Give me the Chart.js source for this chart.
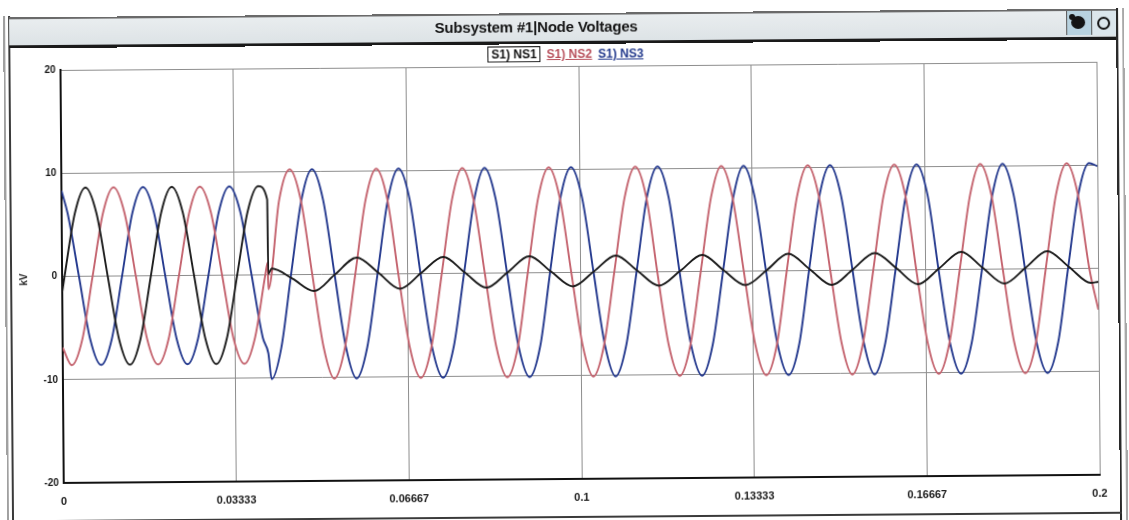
<!DOCTYPE html>
<html>
<head>
<meta charset="utf-8">
<script src="https://cdn.jsdelivr.net/npm/chart.js@4.4.1/dist/chart.umd.min.js"></script>
<style>
  html, body { margin: 0; padding: 0; background: #fff; }
  #fig { position: absolute; left: 0; top: 0; width: 1129px; height: 520px; transform: rotate(-0.45deg); transform-origin: 564px 260px; font-family: "Liberation Sans", Arial, sans-serif; }
  #grafico { position: absolute; left: 0; top: 0; }
  .linea { position: absolute; }
  #barra { position: absolute; left: 11px; top: 13px; width: 1107px; height: 26px; background: linear-gradient(#e9edef, #dde3e6); border-top: 2px solid #6a6a6a; border-bottom: 3px solid #1a1a1a; }
  #titulo { position: absolute; left: 0; width: 1076px; top: 18px; text-align: center; font-weight: bold; font-size: 15px; color: #151515; letter-spacing: -0.2px; }
  #leyenda { position: absolute; top: 46px; left: 489px; font-size: 12px; font-weight: bold; white-space: nowrap; }
  #leyenda span { display: inline-block; margin-right: 6px; }
  .ns1 { border: 1.5px solid #111; padding: 0 3px; color: #111; }
  .ns2 { color: #b8505c; text-decoration: underline; }
  .ns3 { color: #22398c; text-decoration: underline; }
  #kv { position: absolute; left: 17px; top: 270px; font-size: 10px; font-weight: bold; transform: rotate(-90deg); color: #222; }
</style>
</head>
<body>
<div id="fig">
  <canvas id="grafico" width="1129" height="520"></canvas>
  <div class="linea" style="left:5px; top:12px; width:2px; height:520px; background:#a0a0a0"></div>
  <div class="linea" style="left:10px; top:12px; width:2px; height:520px; background:#3a3a3a"></div>
  <div class="linea" style="left:1118px; top:12px; width:2px; height:520px; background:#2a2a2a"></div>
  <div class="linea" style="left:1124px; top:12px; width:2px; height:520px; background:#a8a8a8"></div>
  <div class="linea" style="left:10px; top:516px; width:1110px; height:2px; background:#3a3a3a"></div>
  <div id="barra"></div>
  <div id="titulo">Subsystem #1|Node Voltages</div>
  <!-- iconos de la barra -->
  <div class="linea" style="left:1068px; top:15px; width:24px; height:24px; background:#b8d2df; border-left:1px solid #555"></div>
  <div class="linea" style="left:1073px; top:20px; width:14px; height:13px; border-radius:50%; background:#141414"></div>
  <div class="linea" style="left:1071px; top:18px; width:6px; height:6px; border-radius:50%; background:#141414"></div>
  <div class="linea" style="left:1093px; top:15px; width:24px; height:24px; background:#dbe6ec; border-left:1px solid #555"></div>
  <div class="linea" style="left:1099px; top:21px; width:9px; height:9px; border-radius:50%; border:2px solid #111"></div>
  <div id="leyenda"><span class="ns1">S1) NS1</span><span class="ns2">S1) NS2</span><span class="ns3">S1) NS3</span></div>
  <div id="kv">kV</div>
</div>
<script>
  // Ejes
  const xTicks = [0, 0.03333, 0.06667, 0.1, 0.13333, 0.16667, 0.2];
  const xTickLabels = ['0', '0.03333', '0.06667', '0.1', '0.13333', '0.16667', '0.2'];
  const yTicks = [-20, -10, 0, 10, 20];

  // NS1 (negro): tiempo [s] y tension [kV]
  const timeNs1 = [
    0, 0.00047, 0.00255, 0.00464, 0.00672, 0.0088, 0.01089, 0.01297, 0.01505, 0.01714, 0.01922,
    0.0213, 0.02339, 0.02547, 0.02755, 0.02964, 0.03172, 0.0338, 0.03589, 0.03797, 0.0397, 0.0398,
    0.0405, 0.0445, 0.0486, 0.0527, 0.0569, 0.0611, 0.0652, 0.0694, 0.0736, 0.0777,
    0.0819, 0.0861, 0.0902, 0.0944, 0.0986, 0.1027, 0.1069, 0.1111, 0.1152, 0.1194,
    0.1236, 0.1277, 0.1319, 0.1361, 0.1402, 0.1444, 0.1486, 0.1527, 0.1569, 0.1611,
    0.1652, 0.1694, 0.1736, 0.1777, 0.1819, 0.1861, 0.1902, 0.1944, 0.1986, 0.2
  ];
  const kvNs1 = [
    -1.5, 0, 6.1, 8.6, 6.1, 0, -6.1, -8.6, -6.1, 0, 6.1,
    8.6, 6.1, 0, -6.1, -8.6, -6.1, 0, 6.1, 8.6, 7.3, 0.1,
    0.6, -0.4, -1.6, 0.0, 1.6, 0.1, -1.45, 0.1, 1.6, 0.1,
    -1.4, 0.1, 1.6, 0.1, -1.35, 0.1, 1.6, 0.1, -1.35, 0.1,
    1.6, 0.1, -1.35, 0.1, 1.65, 0.1, -1.4, 0.1, 1.65, 0.15,
    -1.4, 0.15, 1.7, 0.15, -1.4, 0.15, 1.7, 0.15, -1.4, -1.3
  ];

  // NS2 (rojo)
  const timeNs2 = [
    0, 0.00173, 0.00381, 0.00589, 0.00798, 0.01006, 0.01214, 0.01423, 0.01631, 0.01839, 0.02048, 0.02256,
    0.02464, 0.02673, 0.02881, 0.03089, 0.03298, 0.03506, 0.03714, 0.03923, 0.0397, 0.0398, 0.042,
    0.0441, 0.0462, 0.0483, 0.0504, 0.0524, 0.0545, 0.0566, 0.0587,
    0.0608, 0.0629, 0.0649, 0.067, 0.0691, 0.0712, 0.0733, 0.0754,
    0.0774, 0.0795, 0.0816, 0.0837, 0.0858, 0.0879, 0.0899, 0.092,
    0.0941, 0.0962, 0.0983, 0.1004, 0.1024, 0.1045, 0.1066, 0.1087,
    0.1108, 0.1129, 0.1149, 0.117, 0.1191, 0.1212, 0.1233, 0.1254,
    0.1274, 0.1295, 0.1316, 0.1337, 0.1358, 0.1379, 0.1399, 0.142,
    0.1441, 0.1462, 0.1483, 0.1504, 0.1524, 0.1545, 0.1566, 0.1587,
    0.1608, 0.1629, 0.1649, 0.167, 0.1691, 0.1712, 0.1733, 0.1754,
    0.1774, 0.1795, 0.1816, 0.1837, 0.1858, 0.1879, 0.1899, 0.192,
    0.1941, 0.1962, 0.1983, 0.2
  ];
  const kvNs2 = [
    -6.9, -8.6, -6.1, 0, 6.1, 8.6, 6.1, 0, -6.1, -8.6, -6.1, 0,
    6.1, 8.6, 6.1, 0, -6.1, -8.6, -6.1, 0, 1.2, -1.4, 7.2,
    10.2, 7.2, 0, -7.1, -10.1, -7.1, 0, 7.2,
    10.2, 7.2, 0, -7.1, -10.1, -7.1, 0, 7.2,
    10.2, 7.2, 0, -7.1, -10.1, -7.1, 0, 7.2,
    10.2, 7.2, 0, -7.1, -10.1, -7.1, 0, 7.2,
    10.2, 7.2, 0, -7.1, -10.1, -7.1, 0, 7.2,
    10.2, 7.2, 0, -7.1, -10.1, -7.1, 0, 7.2,
    10.2, 7.2, 0, -7.1, -10.1, -7.1, 0, 7.2,
    10.2, 7.2, 0, -7.1, -10.1, -7.1, 0, 7.2,
    10.2, 7.2, 0, -7.1, -10.1, -7.1, 0, 7.2,
    10.2, 7.2, 0, -4.0
  ];

  // NS3 (azul)
  const timeNs3 = [
    0, 0.00116, 0.00325, 0.00533, 0.00741, 0.0095, 0.01158, 0.01366, 0.01575, 0.01783, 0.01991, 0.022,
    0.02408, 0.02616, 0.02825, 0.03033, 0.03241, 0.0345, 0.03658, 0.03866, 0.0397, 0.0403, 0.0422, 0.0442, 0.0463,
    0.0484, 0.0505, 0.0526, 0.0547, 0.0567, 0.0588, 0.0609, 0.063,
    0.0651, 0.0672, 0.0692, 0.0713, 0.0734, 0.0755, 0.0776, 0.0797,
    0.0817, 0.0838, 0.0859, 0.088, 0.0901, 0.0922, 0.0942, 0.0963,
    0.0984, 0.1005, 0.1026, 0.1047, 0.1067, 0.1088, 0.1109, 0.113,
    0.1151, 0.1172, 0.1192, 0.1213, 0.1234, 0.1255, 0.1276, 0.1297,
    0.1317, 0.1338, 0.1359, 0.138, 0.1401, 0.1422, 0.1442, 0.1463,
    0.1484, 0.1505, 0.1526, 0.1547, 0.1567, 0.1588, 0.1609, 0.163,
    0.1651, 0.1672, 0.1692, 0.1713, 0.1734, 0.1755, 0.1776, 0.1797,
    0.1817, 0.1838, 0.1859, 0.188, 0.1901, 0.1922, 0.1942, 0.1963,
    0.1984, 0.2
  ];
  const kvNs3 = [
    8.3, 6.1, 0, -6.1, -8.6, -6.1, 0, 6.1, 8.6, 6.1, 0, -6.1,
    -8.6, -6.1, 0, 6.1, 8.6, 6.1, 0, -6.1, -7.6, -10.1, -7.1, 0, 7.2,
    10.2, 7.2, 0, -7.1, -10.1, -7.1, 0, 7.2,
    10.2, 7.2, 0, -7.1, -10.1, -7.1, 0, 7.2,
    10.2, 7.2, 0, -7.1, -10.1, -7.1, 0, 7.2,
    10.2, 7.2, 0, -7.1, -10.1, -7.1, 0, 7.2,
    10.2, 7.2, 0, -7.1, -10.1, -7.1, 0, 7.2,
    10.2, 7.2, 0, -7.1, -10.1, -7.1, 0, 7.2,
    10.2, 7.2, 0, -7.1, -10.1, -7.1, 0, 7.2,
    10.2, 7.2, 0, -7.1, -10.1, -7.1, 0, 7.2,
    10.2, 7.2, 0, -7.1, -10.1, -7.1, 0, 7.2,
    10.2, 9.9
  ];

  function puntos(tiempos, valores) {
    return tiempos.map((t, i) => ({ x: t, y: valores[i] }));
  }

  const fuenteY = { family: '"Liberation Sans", Arial, sans-serif', size: 10, weight: 'bold' };
  const fuenteX = { family: '"Liberation Sans", Arial, sans-serif', size: 11, weight: 'bold' };
  const ctx = document.getElementById('grafico').getContext('2d');

  new Chart(ctx, {
    type: 'line',
    data: {
      datasets: [
        { label: 'S1) NS1', data: puntos(timeNs1, kvNs1), borderColor: '#1c1c1c' },
        { label: 'S1) NS2', data: puntos(timeNs2, kvNs2), borderColor: '#c4636e' },
        { label: 'S1) NS3', data: puntos(timeNs3, kvNs3), borderColor: '#24398e' }
      ]
    },
    options: {
      responsive: false,
      animation: false,
      layout: { padding: { left: 0, top: 66, right: 31, bottom: 0 } },
      plugins: { legend: { display: false }, tooltip: { enabled: false } },
      elements: {
        point: { radius: 0 },
        line: { borderWidth: 1.9, cubicInterpolationMode: 'monotone', fill: false }
      },
      scales: {
        x: {
          type: 'linear',
          min: 0,
          max: 0.2,
          afterBuildTicks: s => { s.ticks = xTicks.map(v => ({ value: v })); },
          afterFit: s => { s.height = 41; },
          ticks: {
            autoSkip: false, maxRotation: 0, padding: 12, color: '#1a1a1a', font: fuenteX,
            callback: (v, i) => xTickLabels[i]
          },
          grid: { color: '#8d8d8d', lineWidth: 1, drawTicks: false },
          border: { color: '#111', width: 2 }
        },
        y: {
          min: -20,
          max: 20,
          afterBuildTicks: s => { s.ticks = yTicks.map(v => ({ value: v })); },
          afterFit: s => { s.width = 62; },
          ticks: { padding: 5, color: '#1a1a1a', font: fuenteY },
          grid: { color: '#8d8d8d', lineWidth: 1, drawTicks: false },
          border: { color: '#111', width: 2 }
        }
      }
    }
  });
</script>
</body>
</html>
